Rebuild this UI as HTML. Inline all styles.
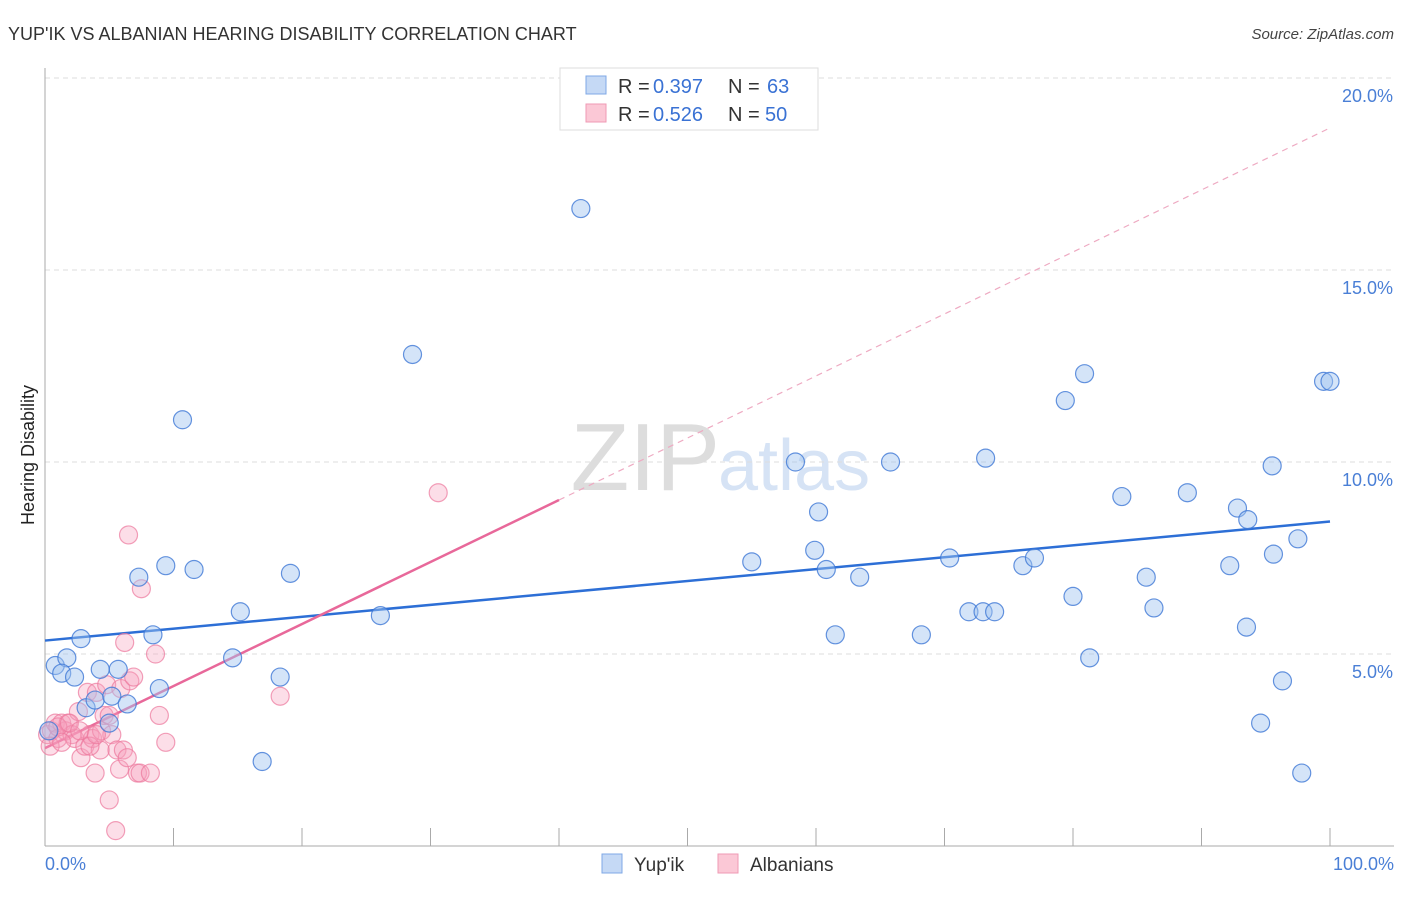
<!DOCTYPE html>
<html><head><meta charset="utf-8"><style>
body{margin:0;background:#fff;font-family:"Liberation Sans",sans-serif;}
svg text{font-family:"Liberation Sans",sans-serif;}
</style></head><body>
<svg id="chart" width="1406" height="892" xmlns="http://www.w3.org/2000/svg">
<text x="8" y="40" font-size="18" fill="#333">YUP'IK VS ALBANIAN HEARING DISABILITY CORRELATION CHART</text>
<text x="1394" y="39" font-size="15" fill="#444" font-style="italic" text-anchor="end">Source: ZipAtlas.com</text>
<text x="720" y="490" font-size="96" fill="#ddd" text-anchor="end" font-family="Liberation Serif">ZIP</text>
<text x="718" y="490" font-size="72" fill="#d6e3f5">atlas</text>
<g id="grid"></g><g id="axes"></g><g id="lines"></g><g id="pts"></g>
<text transform="translate(34,455) rotate(-90)" font-size="18" fill="#222" text-anchor="middle">Hearing Disability</text>
<text x="45" y="870" font-size="18" fill="#4a7fd6">0.0%</text>
<text x="1394" y="870" font-size="18" fill="#4a7fd6" text-anchor="end">100.0%</text>
<g>
<rect x="560" y="68" width="258" height="62" fill="#fff" stroke="#ddd"/>
<rect x="586" y="76" width="20" height="18" fill="#c5d9f5" stroke="#7fa8e6"/>
<rect x="586" y="104" width="20" height="18" fill="#fbc8d6" stroke="#ef9ab4"/>
<text y="93" font-size="20" fill="#333"><tspan x="618">R =</tspan><tspan x="653" fill="#3a72d4">0.397</tspan><tspan x="728">N =</tspan><tspan x="767" fill="#3a72d4">63</tspan></text>
<text y="121" font-size="20" fill="#333"><tspan x="618">R =</tspan><tspan x="653" fill="#3a72d4">0.526</tspan><tspan x="728">N =</tspan><tspan x="765" fill="#3a72d4">50</tspan></text>
</g>
<g>
<rect x="602" y="854" width="20" height="19" fill="#c5d9f5" stroke="#7fa8e6"/>
<text x="634" y="871" font-size="19" fill="#333">Yup'ik</text>
<rect x="718" y="854" width="20" height="19" fill="#fbc8d6" stroke="#ef9ab4"/>
<text x="750" y="871" font-size="19" fill="#333">Albanians</text>
</g>
</svg>
<script>
const yTicks=[5,10,15,20];
const yTickLabels=["5.0%","10.0%","15.0%","20.0%"];
const xTicks=[0,10,20,30,40,50,60,70,80,90,100];
const blueX=[0.8,1.7,1.3,2.3,2.8,4.3,3.2,3.9,5.7,5.2,6.4,5.0,7.3,8.4,9.4,8.9,10.7,11.6,14.6,15.2,18.3,19.1,16.9,26.1,28.6,41.7,55.0,58.4,59.9,60.2,60.8,61.5,63.4,65.8,68.2,70.4,71.9,73.0,73.9,73.2,76.1,77.0,79.4,80.0,80.9,81.3,83.8,85.7,86.3,88.9,92.2,92.8,93.6,93.5,94.6,95.5,95.6,96.3,97.5,97.8,99.5,100.0,0.3];
const blueY=[4.7,4.9,4.5,4.4,5.4,4.6,3.6,3.8,4.6,3.9,3.7,3.2,7.0,5.5,7.3,4.1,11.1,7.2,4.9,6.1,4.4,7.1,2.2,6.0,12.8,16.6,7.4,10.0,7.7,8.7,7.2,5.5,7.0,10.0,5.5,7.5,6.1,6.1,6.1,10.1,7.3,7.5,11.6,6.5,12.3,4.9,9.1,7.0,6.2,9.2,7.3,8.8,8.5,5.7,3.2,9.9,7.6,4.3,8.0,1.9,12.1,12.1,3.0];
const pinkX=[0.2,0.5,0.8,1.0,1.3,1.6,1.8,2.1,2.3,2.6,2.8,3.1,3.3,3.5,3.7,3.9,4.0,4.3,4.4,4.6,4.8,5.0,5.2,5.6,5.8,5.9,6.1,6.2,6.4,6.6,6.5,6.9,7.2,7.4,7.5,8.2,8.6,8.9,9.4,5.0,5.5,18.3,30.6,1.0,1.9,2.7,0.4,1.3,3.5,4.0];
const pinkY=[2.9,3.0,3.2,2.8,3.2,3.0,3.2,2.9,2.8,3.5,2.3,2.6,4.0,2.9,2.8,1.9,4.0,2.5,3.0,3.4,4.2,3.4,2.9,2.5,2.0,4.1,2.5,5.3,2.3,4.3,8.1,4.4,1.9,1.9,6.7,1.9,5.0,3.4,2.7,1.2,0.4,3.9,9.2,3.1,3.2,3.0,2.6,2.7,2.6,2.9];
const blueTrend=[5.35,8.45];
const pinkTrend=[2.55,18.7];
const NS="http://www.w3.org/2000/svg";
const X=v=>45+v*12.85, Y=v=>846-v*38.4;
function mk(p,t,a){const e=document.createElementNS(NS,t);for(const k in a)e.setAttribute(k,a[k]);document.getElementById(p).appendChild(e);return e;}
yTicks.forEach((t,i)=>{
 const g=mk('grid','line',{x1:45,x2:1394,y1:Y(t),y2:Y(t),stroke:'#ddd','stroke-dasharray':'5,4'});
 
 
 const l=mk('grid','text',{x:1393,y:Y(t)+24,'font-size':18,fill:'#4a7fd6','text-anchor':'end'});
 l.textContent=yTickLabels[i];
 
 
});
const ax=mk('axes','line',{x1:45,x2:1394,y1:846,y2:846,stroke:'#aaa'});


const ay=mk('axes','line',{x1:45,x2:45,y1:68,y2:846,stroke:'#aaa'});


xTicks.forEach(t=>{
 const k=mk('axes','line',{x1:X(t),x2:X(t),y1:828,y2:846,stroke:'#aaa'});
 
 
});
function pts(xs,ys,fill,stroke,name){xs.forEach((x,i)=>{
 const c=mk('pts','circle',{cx:X(x),cy:Y(ys[i]),r:9,fill:fill,stroke:stroke,'stroke-width':1.2});
 
 
});}
pts(pinkX,pinkY,'rgba(246,160,188,0.35)','rgba(236,120,156,0.7)','albanian-point');
pts(blueX,blueY,'rgba(160,196,240,0.45)','rgba(62,120,214,0.8)','yupik-point');
const bl=mk('lines','line',{x1:X(0),y1:Y(blueTrend[0]),x2:X(100),y2:Y(blueTrend[1]),stroke:'#2d6fd6','stroke-width':2.5});


const pm=pinkTrend[0]+(pinkTrend[1]-pinkTrend[0])*0.4;
const ps=mk('lines','line',{x1:X(0),y1:Y(pinkTrend[0]),x2:X(40),y2:Y(pm),stroke:'#e8689a','stroke-width':2.5});


const pd=mk('lines','line',{x1:X(40),y1:Y(pm),x2:X(100),y2:Y(pinkTrend[1]),stroke:'#eeaac2','stroke-width':1.2,'stroke-dasharray':'6,5'});


</script>
</body></html>
